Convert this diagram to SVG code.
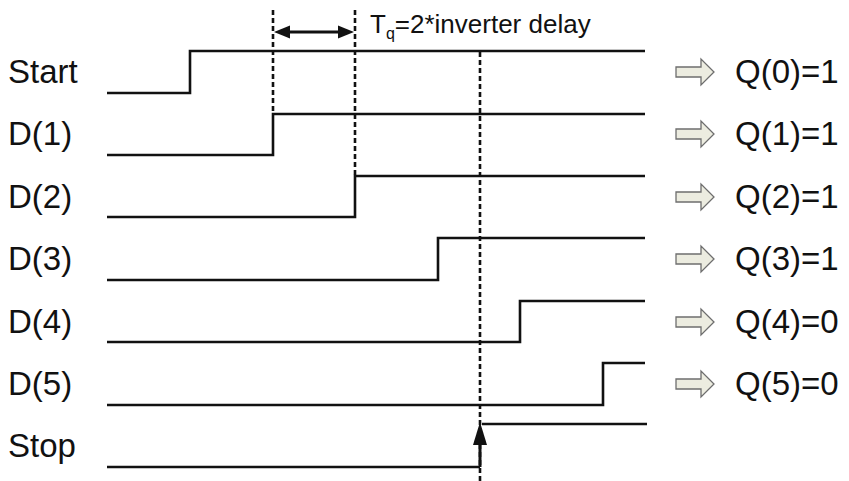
<svg xmlns="http://www.w3.org/2000/svg" width="849" height="481" viewBox="0 0 849 481">
  <style>
    .lbl { font-family: "Liberation Sans", Arial, sans-serif; font-size: 33px; fill: #111; }
    .note { font-family: "Liberation Sans", Arial, sans-serif; font-size: 26px; fill: #111; }
    .sig { fill: none; stroke: #111; stroke-width: 2.6; }
    .dash { fill: none; stroke: #111; stroke-width: 2.6; stroke-dasharray: 5 3; }
    .out { fill: #ecece0; stroke: #6e6e6e; stroke-width: 1.3; }
    .tip { fill: #111; }
  </style>
  <defs>
    <path id="hollow" class="out" d="M0,-5 L25,-5 L25,-13 L38,0 L25,13 L25,5 L0,5 z"/>
  </defs>
  <rect width="849" height="481" fill="#fff"/>

  <!-- signal names -->
  <g id="labels">
    <text class="lbl" x="8" y="83">Start</text>
    <text class="lbl" x="8" y="145">D(1)</text>
    <text class="lbl" x="8" y="208">D(2)</text>
    <text class="lbl" x="8" y="270">D(3)</text>
    <text class="lbl" x="8" y="333">D(4)</text>
    <text class="lbl" x="8" y="395">D(5)</text>
    <text class="lbl" x="8" y="457">Stop</text>
  </g>

  <!-- waveforms -->
  <g id="wave-start"><path class="sig" d="M107,93 H190 V51 H645"/></g>
  <g id="wave-d1"><path class="sig" d="M107,155 H273 V114 H645"/></g>
  <g id="wave-d2"><path class="sig" d="M107,217 H355 V176 H645"/></g>
  <g id="wave-d3"><path class="sig" d="M107,280 H438 V238 H645"/></g>
  <g id="wave-d4"><path class="sig" d="M107,342 H520 V301 H645"/></g>
  <g id="wave-d5"><path class="sig" d="M107,405 H603 V363 H645"/></g>
  <g id="wave-stop">
    <path class="sig" d="M107,467 H480"/>
    <path class="sig" d="M482,424 H647"/>
  </g>

  <!-- timing markers -->
  <g id="connectors">
    <path class="dash" d="M273,10 V114"/>
    <path class="dash" d="M355,10 V176"/>
    <path class="dash" d="M480,52 V481"/>
    <path d="M286,32 H342" fill="none" stroke="#111" stroke-width="2.8"/>
    <path class="tip" d="M274,32 L290,25.5 L290,38.5 z"/>
    <path class="tip" d="M354,32 L338,25.5 L338,38.5 z"/>
    <path d="M480,467 V440" fill="none" stroke="#111" stroke-width="3"/>
    <path class="tip" d="M480,422 L487,445 L473,445 z"/>
  </g>

  <g id="delay-note">
    <text class="note" x="370" y="33">T<tspan font-size="16" dy="6">q</tspan><tspan dy="-6">=2*inverter delay</tspan></text>
  </g>

  <!-- captured outputs -->
  <g id="out-0"><use href="#hollow" x="676" y="72"/><text class="lbl" x="735" y="83">Q(0)=1</text></g>
  <g id="out-1"><use href="#hollow" x="676" y="134"/><text class="lbl" x="735" y="145">Q(1)=1</text></g>
  <g id="out-2"><use href="#hollow" x="676" y="197"/><text class="lbl" x="735" y="208">Q(2)=1</text></g>
  <g id="out-3"><use href="#hollow" x="676" y="259"/><text class="lbl" x="735" y="270">Q(3)=1</text></g>
  <g id="out-4"><use href="#hollow" x="676" y="322"/><text class="lbl" x="735" y="333">Q(4)=0</text></g>
  <g id="out-5"><use href="#hollow" x="676" y="384"/><text class="lbl" x="735" y="395">Q(5)=0</text></g>
</svg>
